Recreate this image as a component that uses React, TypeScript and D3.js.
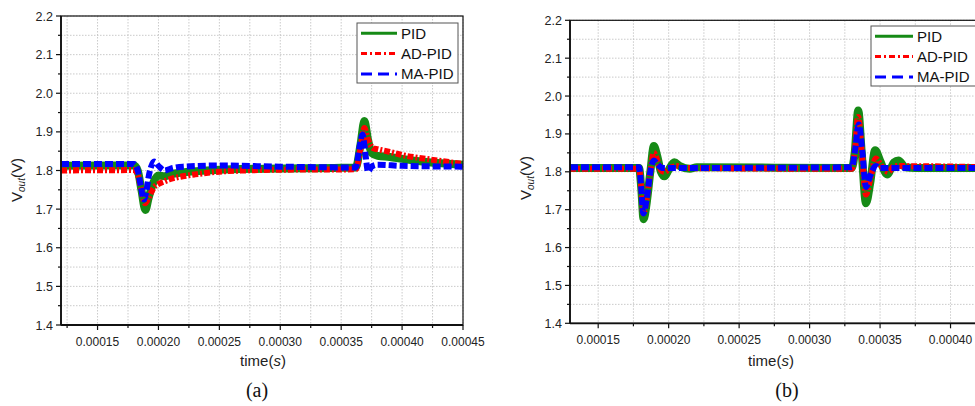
import React from 'react';
import * as d3 from 'd3';

const W = 975;
const H = 406;

const seriesNames = ['PID', 'AD-PID', 'MA-PID'];
const seriesColors = ['#168a16', '#ff0000', '#0000ff'];
const seriesDash = ['none', '6,2,2,2', '8,3'];
const legendDash = ['none', '6,3,2,3', '11,6'];
const seriesWidth = [8, 6, 6];

const yTicks = [1.4, 1.5, 1.6, 1.7, 1.8, 1.9, 2.0, 2.1, 2.2];
const xTicksA = [0.00015, 0.0002, 0.00025, 0.0003, 0.00035, 0.0004, 0.00045];
const xTicksB = [0.00015, 0.0002, 0.00025, 0.0003, 0.00035, 0.0004, 0.00045];

// panel (a): [time, Vout]
const pidA: [number, number][] = [
  [0.00012, 1.812], [0.00018, 1.813], [0.000183, 1.8], [0.000186, 1.75], [0.0001893, 1.698],
  [0.000192, 1.73], [0.000196, 1.77], [0.0002, 1.787], [0.000205, 1.785], [0.00021, 1.79],
  [0.00022, 1.795], [0.00024, 1.8], [0.00026, 1.803], [0.0003, 1.805], [0.00035, 1.807],
  [0.000362, 1.808], [0.000366, 1.87], [0.000369, 1.928], [0.000372, 1.88], [0.000375, 1.845],
  [0.00038, 1.838], [0.00039, 1.835], [0.0004, 1.83], [0.00042, 1.822], [0.00045, 1.815],
];
const adA: [number, number][] = [
  [0.00012, 1.8], [0.00018, 1.801], [0.000183, 1.79], [0.000186, 1.75], [0.000189, 1.715],
  [0.000192, 1.73], [0.000196, 1.755], [0.0002, 1.765], [0.000205, 1.772], [0.00021, 1.778],
  [0.00022, 1.785], [0.00023, 1.79], [0.00025, 1.797], [0.00027, 1.8], [0.0003, 1.802],
  [0.000362, 1.803], [0.000366, 1.86], [0.000369, 1.91], [0.000372, 1.88], [0.000376, 1.858],
  [0.00038, 1.855], [0.00039, 1.848], [0.0004, 1.84], [0.00042, 1.83], [0.00045, 1.817],
];
const maA: [number, number][] = [
  [0.00012, 1.817], [0.00018, 1.817], [0.000183, 1.8], [0.0001855, 1.76], [0.000188, 1.725],
  [0.00019, 1.745], [0.000192, 1.785], [0.000194, 1.81], [0.0001965, 1.823], [0.0002, 1.812],
  [0.000205, 1.8], [0.00021, 1.805], [0.00022, 1.81], [0.00025, 1.813], [0.0003, 1.81],
  [0.00035, 1.808], [0.000362, 1.808], [0.000365, 1.86], [0.0003675, 1.893], [0.00037, 1.84],
  [0.000372, 1.797], [0.000375, 1.81], [0.00038, 1.815], [0.0004, 1.812], [0.00045, 1.81],
];

// panel (b)
const pidB: [number, number][] = [
  [0.00013, 1.81], [0.000179, 1.81], [0.0001805, 1.76], [0.0001822, 1.675], [0.0001845, 1.72],
  [0.000187, 1.8], [0.0001895, 1.868], [0.000192, 1.84], [0.0001945, 1.8], [0.000197, 1.788],
  [0.0002, 1.805], [0.000204, 1.825], [0.000208, 1.815], [0.000215, 1.808], [0.00022, 1.812],
  [0.00033, 1.81], [0.000332, 1.85], [0.0003345, 1.962], [0.000337, 1.85], [0.00034, 1.717],
  [0.000343, 1.77], [0.0003465, 1.857], [0.00035, 1.83], [0.000355, 1.793], [0.00036, 1.825],
  [0.000363, 1.83], [0.000368, 1.812], [0.000375, 1.81], [0.00045, 1.81],
];
const adB: [number, number][] = [
  [0.00013, 1.808], [0.000179, 1.808], [0.0001805, 1.76], [0.000182, 1.69], [0.0001845, 1.73],
  [0.000187, 1.8], [0.0001895, 1.85], [0.000192, 1.83], [0.0001945, 1.805], [0.000197, 1.8],
  [0.000202, 1.812], [0.000206, 1.815], [0.00021, 1.81], [0.00033, 1.808], [0.000332, 1.85],
  [0.0003345, 1.945], [0.000337, 1.85], [0.00034, 1.74], [0.000343, 1.78], [0.000347, 1.835],
  [0.000351, 1.815], [0.000356, 1.8], [0.00036, 1.815], [0.000365, 1.815], [0.00045, 1.81],
];
const maB: [number, number][] = [
  [0.00013, 1.812], [0.000179, 1.812], [0.0001805, 1.76], [0.000182, 1.69], [0.0001845, 1.73],
  [0.000187, 1.8], [0.0001895, 1.83], [0.000192, 1.82], [0.000196, 1.81], [0.00033, 1.812],
  [0.000332, 1.85], [0.000335, 1.925], [0.0003375, 1.85], [0.00034, 1.76], [0.000343, 1.79],
  [0.000347, 1.815], [0.00035, 1.81], [0.00045, 1.81],
];

const panels = [
  {
    id: 'a', left: 61, right: 463, top: 16, bottom: 325, xDomain: [0.00012, 0.00045],
    xTicks: xTicksA, data: [pidA, adA, maA],
    legend: { x: 357, y: 23, w: 101, h: 60, lineW: 36, textX: 44 },
    yLabel: { x: 22, y: 180 }, xLabel: { x: 263, y: 366 }, caption: { x: 257, y: 397, text: '(a)' },
  },
  {
    id: 'b', left: 570, right: 1021, top: 20.3, bottom: 323.3, xDomain: [0.00013, 0.00045],
    xTicks: xTicksB, data: [pidB, adB, maB],
    legend: { x: 871, y: 26, w: 120, h: 60, lineW: 38, textX: 46 },
    yLabel: { x: 531, y: 178 }, xLabel: { x: 771, y: 366 }, caption: { x: 787, y: 397, text: '(b)' },
  },
];

const sans = '"Liberation Sans", Arial, sans-serif';

function Panel({ p }: { p: typeof panels[number] }) {
  const x = d3.scaleLinear().domain(p.xDomain).range([p.left, p.right]);
  const y = d3.scaleLinear().domain([1.4, 2.2]).range([p.bottom, p.top]);
  const line = d3.line<[number, number]>().x(d => x(d[0])).y(d => y(d[1])).curve(d3.curveMonotoneX);
  const xMinor = d3.range(p.xDomain[0], p.xDomain[1] + 1e-9, 0.000025)
    .map(v => Math.round(v / 0.000025) * 0.000025)
    .filter(v => v >= p.xDomain[0] - 1e-9 && v <= p.xDomain[1] + 1e-9);
  const yMinor = d3.range(1.45, 2.2, 0.1);
  const fmtX = d3.format('.5f');
  const fmtY = d3.format('.1f');
  const clipId = `clip-${p.id}`;
  // only label ticks that are inside the picture
  const xLabelled = p.xTicks.filter(v => x(v) + 22 <= W);
  return (
    <g>
      <defs>
        <clipPath id={clipId}>
          <rect x={p.left} y={p.top} width={p.right - p.left} height={p.bottom - p.top} />
        </clipPath>
      </defs>
      {/* grid */}
      <g stroke="#bdbdbd" strokeWidth={0.8} strokeDasharray="1.5,1.5">
        {xMinor.map((v, i) => (
          <line key={'gx' + i} x1={x(v)} x2={x(v)} y1={p.top} y2={p.bottom} />
        ))}
        {d3.range(1.45, 2.2, 0.05).map((v, i) => (
          <line key={'gy' + i} x1={p.left} x2={p.right} y1={y(v)} y2={y(v)} />
        ))}
      </g>
      {/* traces */}
      <g clipPath={`url(#${clipId})`} fill="none">
        {p.data.map((s, i) => (
          <path key={i} d={line(s) || ''} stroke={seriesColors[i]} strokeWidth={seriesWidth[i]}
            strokeDasharray={seriesDash[i]} strokeLinejoin="round" />
        ))}
      </g>
      {/* frame */}
      <rect x={p.left} y={p.top} width={p.right - p.left} height={p.bottom - p.top}
        fill="none" stroke="#111" strokeWidth={1.2} />
      <line x1={p.left} x2={p.left} y1={p.top} y2={p.bottom} stroke="#111" strokeWidth={1.8} />
      <line x1={p.left} x2={p.right} y1={p.bottom} y2={p.bottom} stroke="#111" strokeWidth={1.8} />
      {/* ticks */}
      <g stroke="#111" strokeWidth={1.2}>
        {yTicks.map((v, i) => (
          <line key={'yt' + i} x1={p.left - 5} x2={p.left} y1={y(v)} y2={y(v)} />
        ))}
        {yMinor.map((v, i) => (
          <line key={'ym' + i} x1={p.left - 3} x2={p.left} y1={y(v)} y2={y(v)} />
        ))}
        {p.xTicks.map((v, i) => (
          <line key={'xt' + i} x1={x(v)} x2={x(v)} y1={p.bottom} y2={p.bottom + 5} />
        ))}
        {xMinor.filter(v => !p.xTicks.some(t => Math.abs(t - v) < 1e-9)).map((v, i) => (
          <line key={'xm' + i} x1={x(v)} x2={x(v)} y1={p.bottom} y2={p.bottom + 3} />
        ))}
      </g>
      <g fontFamily={sans} fontSize={12.5} fill="#222">
        {yTicks.map((v, i) => (
          <text key={'yl' + i} x={p.left - 8} y={y(v)} dy="0.36em" textAnchor="end">{fmtY(v)}</text>
        ))}
      </g>
      <g fontFamily={sans} fontSize={12} fill="#222">
        {xLabelled.map((v, i) => (
          <text key={'xl' + i} x={x(v)} y={p.bottom + 21} textAnchor="middle">{fmtX(v)}</text>
        ))}
      </g>
      {/* axis titles */}
      <text transform={`translate(${p.yLabel.x},${p.yLabel.y}) rotate(-90)`} textAnchor="middle"
        fontFamily={sans} fontSize={15} fill="#222">
        V<tspan fontSize={10} fontStyle="italic" dy={3}>out</tspan><tspan dy={-3}>(V)</tspan>
      </text>
      <text x={p.xLabel.x} y={p.xLabel.y} textAnchor="middle" fontFamily={sans} fontSize={15} fill="#222">
        time(<tspan fontStyle="italic">s</tspan>)
      </text>
      <text x={p.caption.x} y={p.caption.y} textAnchor="middle" fontFamily='"Liberation Serif", "Times New Roman", serif'
        fontSize={20} fill="#111">{p.caption.text}</text>
      {/* legend */}
      <g>
        <rect x={p.legend.x} y={p.legend.y} width={p.legend.w} height={p.legend.h} fill="#fff"
          stroke="#555" strokeWidth={1} />
        {seriesNames.map((n, i) => {
          const ly = p.legend.y + 10.3 + i * 20.3;
          return (
            <g key={n}>
              <line x1={p.legend.x + 4} x2={p.legend.x + 4 + p.legend.lineW} y1={ly} y2={ly}
                stroke={seriesColors[i]} strokeWidth={3} strokeDasharray={legendDash[i]} />
              <text x={p.legend.x + p.legend.textX} y={ly} dy="0.36em" fontFamily={sans} fontSize={15}
                fill="#111">{n}</text>
            </g>
          );
        })}
      </g>
    </g>
  );
}

export default function App() {
  return (
    <svg width={W} height={H} style={{ position: 'absolute', left: 0, top: 0, background: '#fff' }}>
      {panels.map(p => <Panel key={p.id} p={p} />)}
    </svg>
  );
}
